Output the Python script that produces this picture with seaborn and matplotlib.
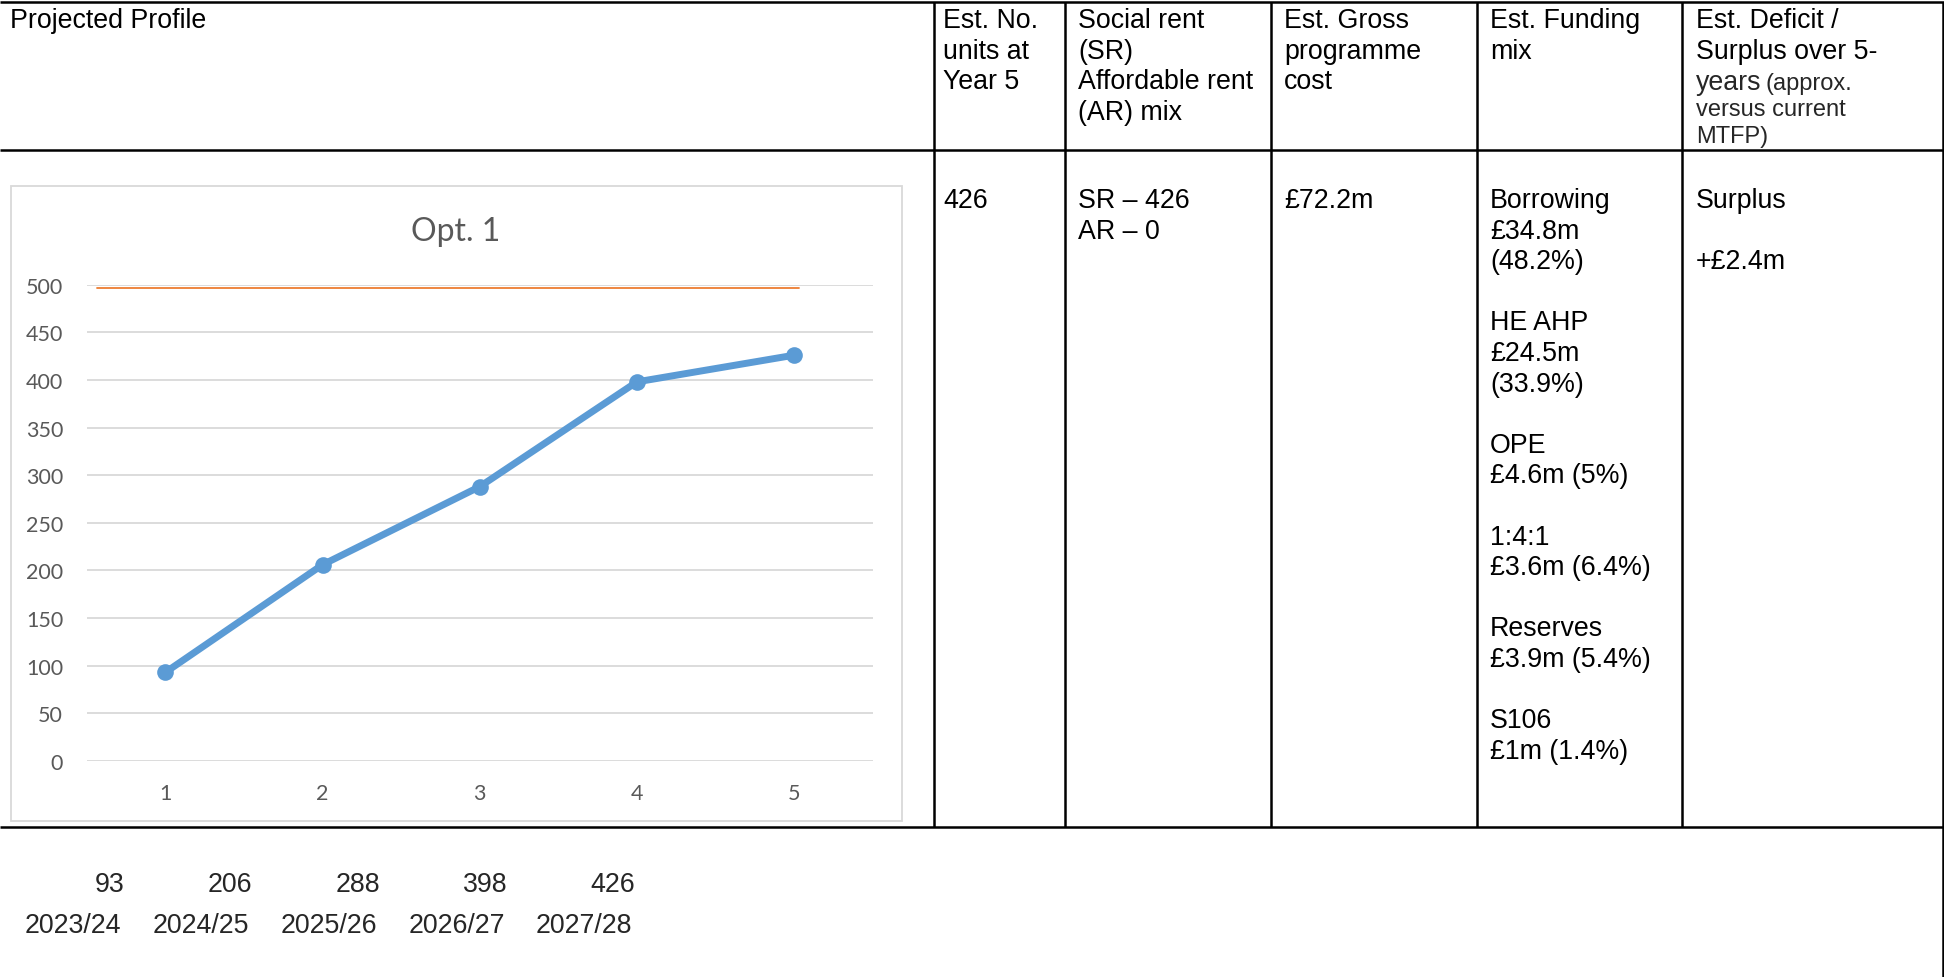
import matplotlib.pyplot as plt
import numpy as np
import pandas as pd
import seaborn as sns
from matplotlib.patches import Rectangle

# chart data
year_no = [1, 2, 3, 4, 5]
years = ["2023/24", "2024/25", "2025/26", "2026/27", "2027/28"]
units = [93, 206, 288, 398, 426]
target_units = 497
y_ticks = [0, 50, 100, 150, 200, 250, 300, 350, 400, 450, 500]

# table text
header_profile = ["Projected Profile"]
header_units = ["Est. No.", "units at", "Year 5"]
header_mix = ["Social rent", "(SR)", "Affordable rent", "(AR) mix"]
header_cost = ["Est. Gross", "programme", "cost"]
header_funding = ["Est. Funding", "mix"]
body_units = ["426"]
body_mix = ["SR \u2013 426", "AR \u2013 0"]
body_cost = ["\u00a372.2m"]
body_funding = ["Borrowing", "\u00a334.8m", "(48.2%)", "",
                "HE AHP", "\u00a324.5m", "(33.9%)", "",
                "OPE", "\u00a34.6m (5%)", "",
                "1:4:1", "\u00a33.6m (6.4%)", "",
                "Reserves", "\u00a33.9m (5.4%)", "",
                "S106", "\u00a31m (1.4%)"]
body_surplus = ["Surplus", "", "+\u00a32.4m"]

W, H = 1944, 978
TABLE_FONT = "Liberation Sans"
CHART_FONT = "Lato"
GREY_TXT = "#595959"
GRID = "#D9D9D9"
FS = 19.3
FS_SMALL = 17

sns.set_theme(style="white")
plt.rcParams["font.family"] = [TABLE_FONT, "DejaVu Sans"]

fig = plt.figure(figsize=(W / 100, H / 100), dpi=100)

# full-figure frame in pixel coordinates for the table
frame = fig.add_axes([0, 0, 1, 1])
frame.set_xlim(0, W)
frame.set_ylim(H, 0)
frame.axis("off")


def block(x, y0, lines, pitch=30.6, size=FS):
    for i, s in enumerate(lines):
        if s:
            frame.text(x, y0 + i * pitch, s, fontsize=size, color="black",
                       ha="left", va="center", family=TABLE_FONT)


lw = 1.8
frame.plot([0, W], [3, 3], color="black", lw=lw, solid_capstyle="butt")
frame.plot([0, W], [151, 151], color="black", lw=lw, solid_capstyle="butt")
frame.plot([0, W], [828, 828], color="black", lw=lw, solid_capstyle="butt")
for xv in [934, 1065, 1271, 1477, 1682]:
    frame.plot([xv, xv], [3, 828], color="black", lw=lw, solid_capstyle="butt")
frame.plot([1942.5, 1942.5], [3, H], color="black", lw=lw, solid_capstyle="butt")

# header row
block(10, 21, header_profile)
block(943, 21, header_units)
block(1078, 21, header_mix)
block(1284, 21, header_cost)
block(1490, 21, header_funding)
block(1696, 21, ["Est. Deficit /", "Surplus over 5-"])
yrs = frame.text(1696, 83, "years", fontsize=FS, ha="left", va="center")
fig.canvas.draw()
x_next = yrs.get_window_extent().x1 + 4
frame.text(x_next, 84, "(approx.", fontsize=FS_SMALL, ha="left", va="center")
frame.text(1696, 110, "versus current", fontsize=FS_SMALL, ha="left", va="center")
frame.text(1696, 137, "MTFP)", fontsize=FS_SMALL, ha="left", va="center")

# body row
block(943, 201, body_units)
block(1078, 201, body_mix)
block(1284, 201, body_cost)
block(1490, 201, body_funding)
block(1696, 201, body_surplus)

# chart border
frame.add_patch(Rectangle((10.5, 187), 891.5, 635, fill=False, edgecolor=GRID, lw=1.3))
fig.text(456 / W, 1 - 232 / H, "Opt. 1", fontsize=23, color=GREY_TXT,
         ha="center", va="center", family=CHART_FONT)

# bottom row values
col_right = [124, 252, 380, 508, 635]
for xr, v, yr in zip(col_right, units, years):
    frame.text(xr, 885, f"{v}", fontsize=FS, ha="right", va="center")
    frame.text(xr - 3, 926, yr, fontsize=FS, ha="right", va="center")

# the line chart
ax = fig.add_axes([86.7 / W, 1 - 762 / H, 786 / W, 476.3 / H])
df = pd.DataFrame({"year": year_no, "units": units})
sns.lineplot(data=df, x="year", y="units", ax=ax, color="#5B9BD5", lw=5,
             marker="o", markersize=12, markeredgewidth=0)
ax.axhline(target_units, xmin=0.0127, xmax=0.9066, color="#ED7D31", lw=1.3)
ax.set_xlim(0.5, 5.5)
ax.set_ylim(0, 500)
ax.set_yticks(y_ticks)
ax.set_xticks(year_no)
ax.set_xticklabels([str(v) for v in year_no])
ax.grid(axis="y", color=GRID, lw=1.3)
ax.set_axisbelow(True)
ax.set_xlabel("")
ax.set_ylabel("")
sns.despine(ax=ax, left=True, bottom=True)
ax.tick_params(axis="both", length=0, labelsize=15.5, labelcolor=GREY_TXT)
ax.tick_params(axis="y", pad=17)
ax.tick_params(axis="x", pad=16)
for lab in ax.get_xticklabels() + ax.get_yticklabels():
    lab.set_family(CHART_FONT)
ax.patch.set_alpha(0)

fig.savefig("out.png", dpi=100)
